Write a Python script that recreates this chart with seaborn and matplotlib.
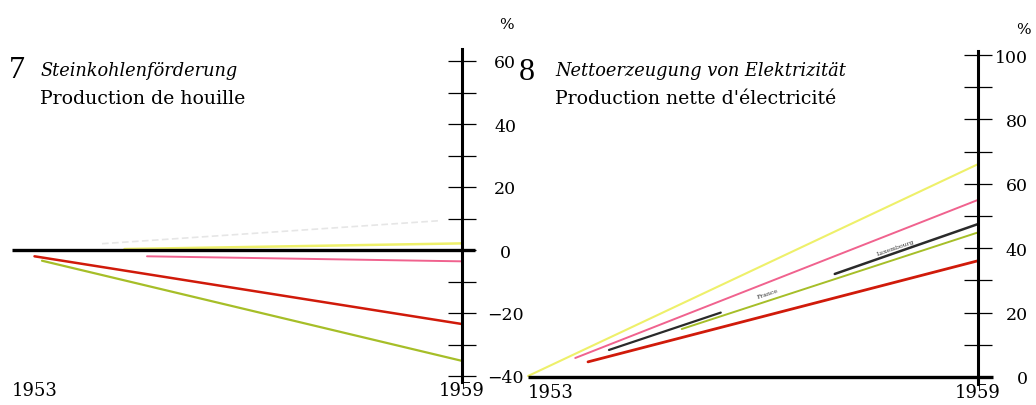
import matplotlib
matplotlib.use("Agg")
import matplotlib.pyplot as plt
import seaborn as sns

# ---- data (% change, 1953 = base) ----
# 7 Steinkohlenförderung / Production de houille
coal_grey_x = [1954.2, 1958.7]
coal_grey_y = [2.0, 9.3]
coal_yellow_x = [1954.5, 1959]
coal_yellow_y = [0.3, 2.1]
coal_pink_x = [1954.8, 1959]
coal_pink_y = [-2.0, -3.6]
coal_red_x = [1953.3, 1959]
coal_red_y = [-2.0, -23.5]
coal_olive_x = [1953.4, 1959]
coal_olive_y = [-3.4, -35.2]

# 8 Nettoerzeugung von Elektrizität / Production nette d'électricité
elec_yellow_x = [1953.0, 1959]
elec_yellow_y = [0.3, 66.1]
elec_pink_x = [1953.63, 1959]
elec_pink_y = [5.9, 55.0]
elec_lux_x1 = [1954.08, 1955.57]
elec_lux_y1 = [8.4, 20.0]
elec_lux_x2 = [1957.09, 1959]
elec_lux_y2 = [32.0, 47.5]
elec_france_x = [1955.05, 1959]
elec_france_y = [14.9, 44.9]
elec_red_x = [1953.8, 1959]
elec_red_y = [4.7, 36.1]

coal_ticks = [-40, -20, 0, 20, 40, 60]
coal_ticklabels = ["\u221240", "\u221220", "0", "20", "40", "60"]
elec_ticks = [0, 20, 40, 60, 80, 100]
elec_ticklabels = ["0", "20", "40", "60", "80", "100"]
year_ticks = [1953, 1959]

YELLOW = "#eef06a"
PINK = "#f0628e"
RED = "#d01a0a"
OLIVE = "#a6be28"
GREY = "#e6e6e6"
DARK = "#2a2a2a"

sns.set_style("white")
plt.rcParams["font.family"] = ["DejaVu Serif", "DejaVu Sans"]
plt.rcParams["text.color"] = "black"
plt.rcParams["xtick.color"] = "black"
plt.rcParams["ytick.color"] = "black"

W, H = 1036, 406
fig = plt.figure(figsize=(W / 100, H / 100), dpi=100)


def px_axes(left, right, top, bottom):
    return fig.add_axes([left / W, 1 - bottom / H, (right - left) / W, (bottom - top) / H])


ax1 = px_axes(4.5, 484.5, 46.25, 392.75)
ax1.set_xlim(1952.9, 1959.3)
ax1.set_ylim(-45, 65)

ax2 = px_axes(520.5, 1000.5, 39.9, 394.1)
ax2.set_xlim(1952.9, 1959.3)
ax2.set_ylim(-5, 105)

# lines
sns.lineplot(x=coal_grey_x, y=coal_grey_y, color=GREY, lw=1.2, ls=(0, (4, 2)), ax=ax1)
sns.lineplot(x=coal_yellow_x, y=coal_yellow_y, color=YELLOW, lw=1.8, ax=ax1)
sns.lineplot(x=coal_pink_x, y=coal_pink_y, color=PINK, lw=1.4, ax=ax1)
sns.lineplot(x=coal_olive_x, y=coal_olive_y, color=OLIVE, lw=1.6, ax=ax1)
sns.lineplot(x=coal_red_x, y=coal_red_y, color=RED, lw=1.8, ax=ax1)

sns.lineplot(x=elec_yellow_x, y=elec_yellow_y, color=YELLOW, lw=1.5, ax=ax2)
sns.lineplot(x=elec_pink_x, y=elec_pink_y, color=PINK, lw=1.4, ax=ax2)
sns.lineplot(x=elec_lux_x1, y=elec_lux_y1, color=DARK, lw=1.6, ax=ax2)
sns.lineplot(x=elec_lux_x2, y=elec_lux_y2, color=DARK, lw=1.8, ax=ax2)
sns.lineplot(x=elec_france_x, y=elec_france_y, color=OLIVE, lw=1.4, ax=ax2)
sns.lineplot(x=elec_red_x, y=elec_red_y, color=RED, lw=2.0, ax=ax2)

# small country labels on the lines
ax2.text(1956.2, 26.0, "France", fontsize=4.5, rotation=18, ha="center", va="center", color="#333333")
ax2.text(1957.9, 40.2, "Luxembourg", fontsize=4.5, rotation=19, ha="center", va="center", color="#333333")

# zero lines
ax1.hlines(0, 1953, 1959.17, color="black", lw=2.4)
ax2.hlines(0, 1953, 1959.2, color="black", lw=2.4)

for ax, ticks, labels, bounds, pad, ha in [
    (ax1, coal_ticks, coal_ticklabels, (-41.9, 63.8), 21, "center"),
    (ax2, elec_ticks, elec_ticklabels, (-2.2, 101.2), 26, "right"),
]:
    for s in ["left", "top", "bottom"]:
        ax.spines[s].set_visible(False)
    ax.spines["right"].set_position(("data", 1959))
    ax.spines["right"].set_bounds(*bounds)
    ax.spines["right"].set_linewidth(2.2)
    ax.spines["right"].set_color("black")
    ax.yaxis.set_ticks_position("right")
    ax.set_yticks(ticks)
    ax.set_yticks(range(ticks[0] + 10, ticks[-1], 20), minor=True)
    ax.set_yticklabels(labels)
    ax.tick_params(axis="y", which="both", direction="inout", length=20, width=0.9,
                   color="black", labelsize=12.5, pad=pad)
    for lbl in ax.get_yticklabels():
        lbl.set_ha(ha)
    ax.set_xticks(year_ticks)
    ax.set_xticklabels([str(y) for y in year_ticks])
    ax.tick_params(axis="x", length=0, labelsize=13, pad=-7.5)
    ax.get_xticklabels()[0].set_ha("left")
    ax.set_xlabel("")
    ax.set_ylabel("")
    ax.grid(False)
    ax.patch.set_alpha(0)

# titles
fig.text(9 / W, 1 - 78 / H, "7", fontsize=23, va="baseline", family="Liberation Serif")
fig.text(40 / W, 1 - 76 / H, "Steinkohlenförderung", fontsize=12.8, style="italic", va="baseline")
fig.text(40 / W, 1 - 104 / H, "Production de houille", fontsize=13.6, va="baseline")
fig.text(519 / W, 1 - 80 / H, "8", fontsize=23, va="baseline", family="Liberation Serif")
fig.text(555 / W, 1 - 76 / H, "Nettoerzeugung von Elektrizität", fontsize=12.8, style="italic", va="baseline")
fig.text(555 / W, 1 - 104 / H, "Production nette d'électricité", fontsize=13.6, va="baseline")

fig.text(506 / W, 1 - 25 / H, "%", fontsize=11, ha="center", va="center")
fig.text(1023 / W, 1 - 30 / H, "%", fontsize=11, ha="center", va="center")

fig.savefig("out.png", dpi=100, facecolor="white")
